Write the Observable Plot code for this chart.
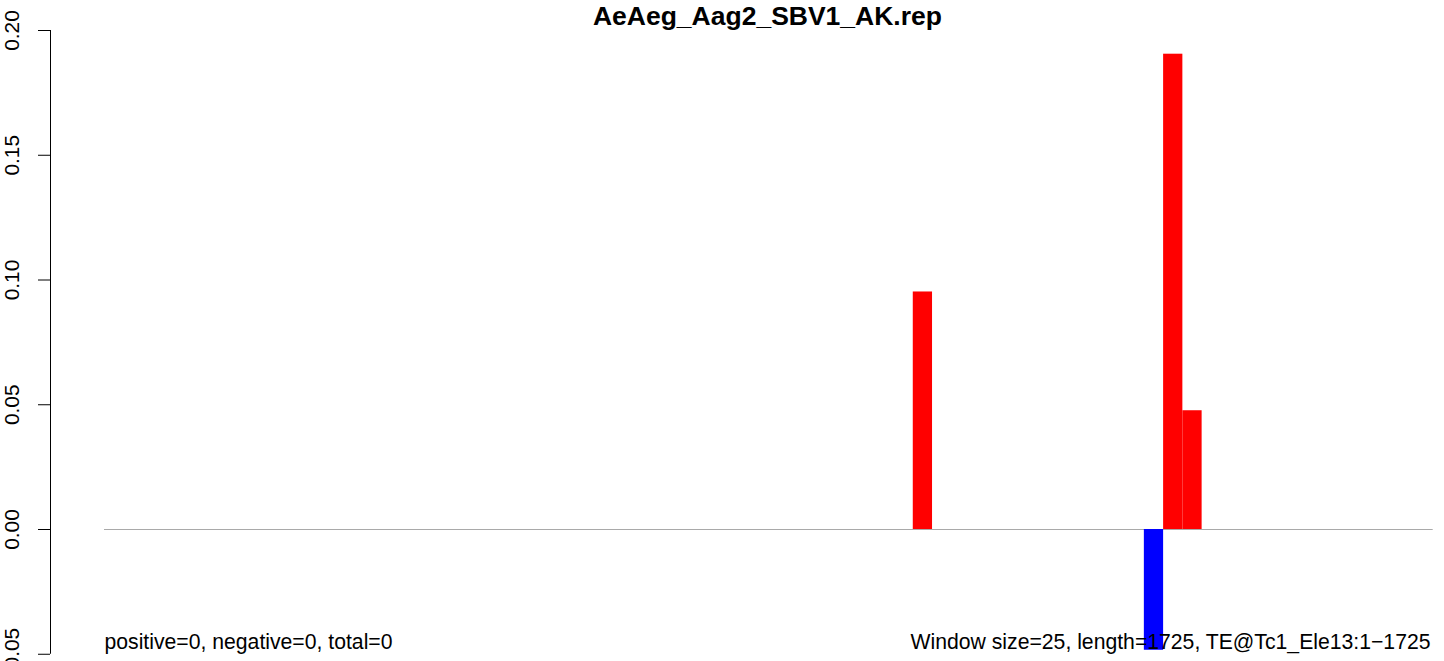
<!DOCTYPE html>
<html>
<head>
<meta charset="utf-8">
<script src="https://cdn.jsdelivr.net/npm/d3@7"></script>
<script src="https://cdn.jsdelivr.net/npm/@observablehq/plot@0.6"></script>
<style>
  html, body { margin: 0; padding: 0; background: #ffffff; }
  svg { display: block; }
</style>
</head>
<body>
<div id="chart"></div>
<script>
// ---- data ----
const chartTitle = "AeAeg_Aag2_SBV1_AK.rep";
const seqLength = 1725;
const windowSize = 25;
const posStarts = [1050, 1375, 1400];
const posValues = [0.0952, 0.1905, 0.0476];
const negStarts = [1350];
const negValues = [-0.0484];
const yTicks = [-0.05, 0, 0.05, 0.10, 0.15, 0.20];
const yTickLabels = ["\u22120.05", "0.00", "0.05", "0.10", "0.15", "0.20"];
const leftNote = "positive=0, negative=0, total=0";
const rightNote = "Window size=25, length=1725, TE@Tc1_Ele13:1\u22121725";

const posBars = posStarts.map((s, i) => ({start: s, end: s + windowSize, value: posValues[i]}));
const negBars = negStarts.map((s, i) => ({start: s, end: s + windowSize, value: negValues[i]}));

const font = "'Liberation Sans', Arial, Helvetica, sans-serif";

const chart = Plot.plot({
  width: 1444,
  height: 661,
  marginLeft: 50,
  marginRight: 11.3,
  marginTop: 30,
  marginBottom: 7.25,
  style: {fontFamily: font, background: "#ffffff", color: "#000000"},
  x: {domain: [0, seqLength], insetLeft: 54, axis: null},
  y: {domain: [yTicks[0], yTicks[yTicks.length - 1]], axis: null},
  marks: [
    Plot.ruleY([0], {x1: 0, x2: seqLength, stroke: "#a9a9a9", strokeWidth: 1}),
    Plot.rectY(posBars, {x1: "start", x2: "end", y1: 0, y2: "value", fill: "#ff0000", inset: 0}),
    Plot.rectY(negBars, {x1: "start", x2: "end", y1: 0, y2: "value", fill: "#0000ff", inset: 0}),
    Plot.axisY(yTicks, {
      anchor: "left",
      tickSize: 12,
      tickFormat: () => "",
      label: null,
      stroke: "#000000"
    }),
    Plot.text(yTicks, {
      y: d => d,
      text: d => yTickLabels[yTicks.indexOf(d)],
      frameAnchor: "left",
      rotate: -90,
      textAnchor: "middle",
      lineAnchor: "bottom",
      dx: -31.5,
      fontSize: 20.8,
      fill: "#000000"
    }),
    Plot.ruleX([0], {y1: yTicks[0], y2: yTicks[yTicks.length - 1], dx: -54, stroke: "#000000", strokeWidth: 1}),
    Plot.text([chartTitle], {
      frameAnchor: "top", dx: 25.6, dy: -5.5, lineAnchor: "bottom",
      text: d => d, fontSize: 26.5, fontWeight: "bold", fill: "#000000"
    }),
    Plot.text([leftNote], {
      x: 0, y: yTicks[0], text: d => d, textAnchor: "start", lineAnchor: "bottom",
      dy: -5.5, fontSize: 21.2, fill: "#000000"
    }),
    Plot.text([rightNote], {
      x: seqLength, y: yTicks[0], text: d => d, textAnchor: "end", lineAnchor: "bottom",
      dx: -2.7, dy: -5.5, fontSize: 21.2, fill: "#000000"
    })
  ]
});

document.getElementById("chart").appendChild(chart);
</script>
</body>
</html>
